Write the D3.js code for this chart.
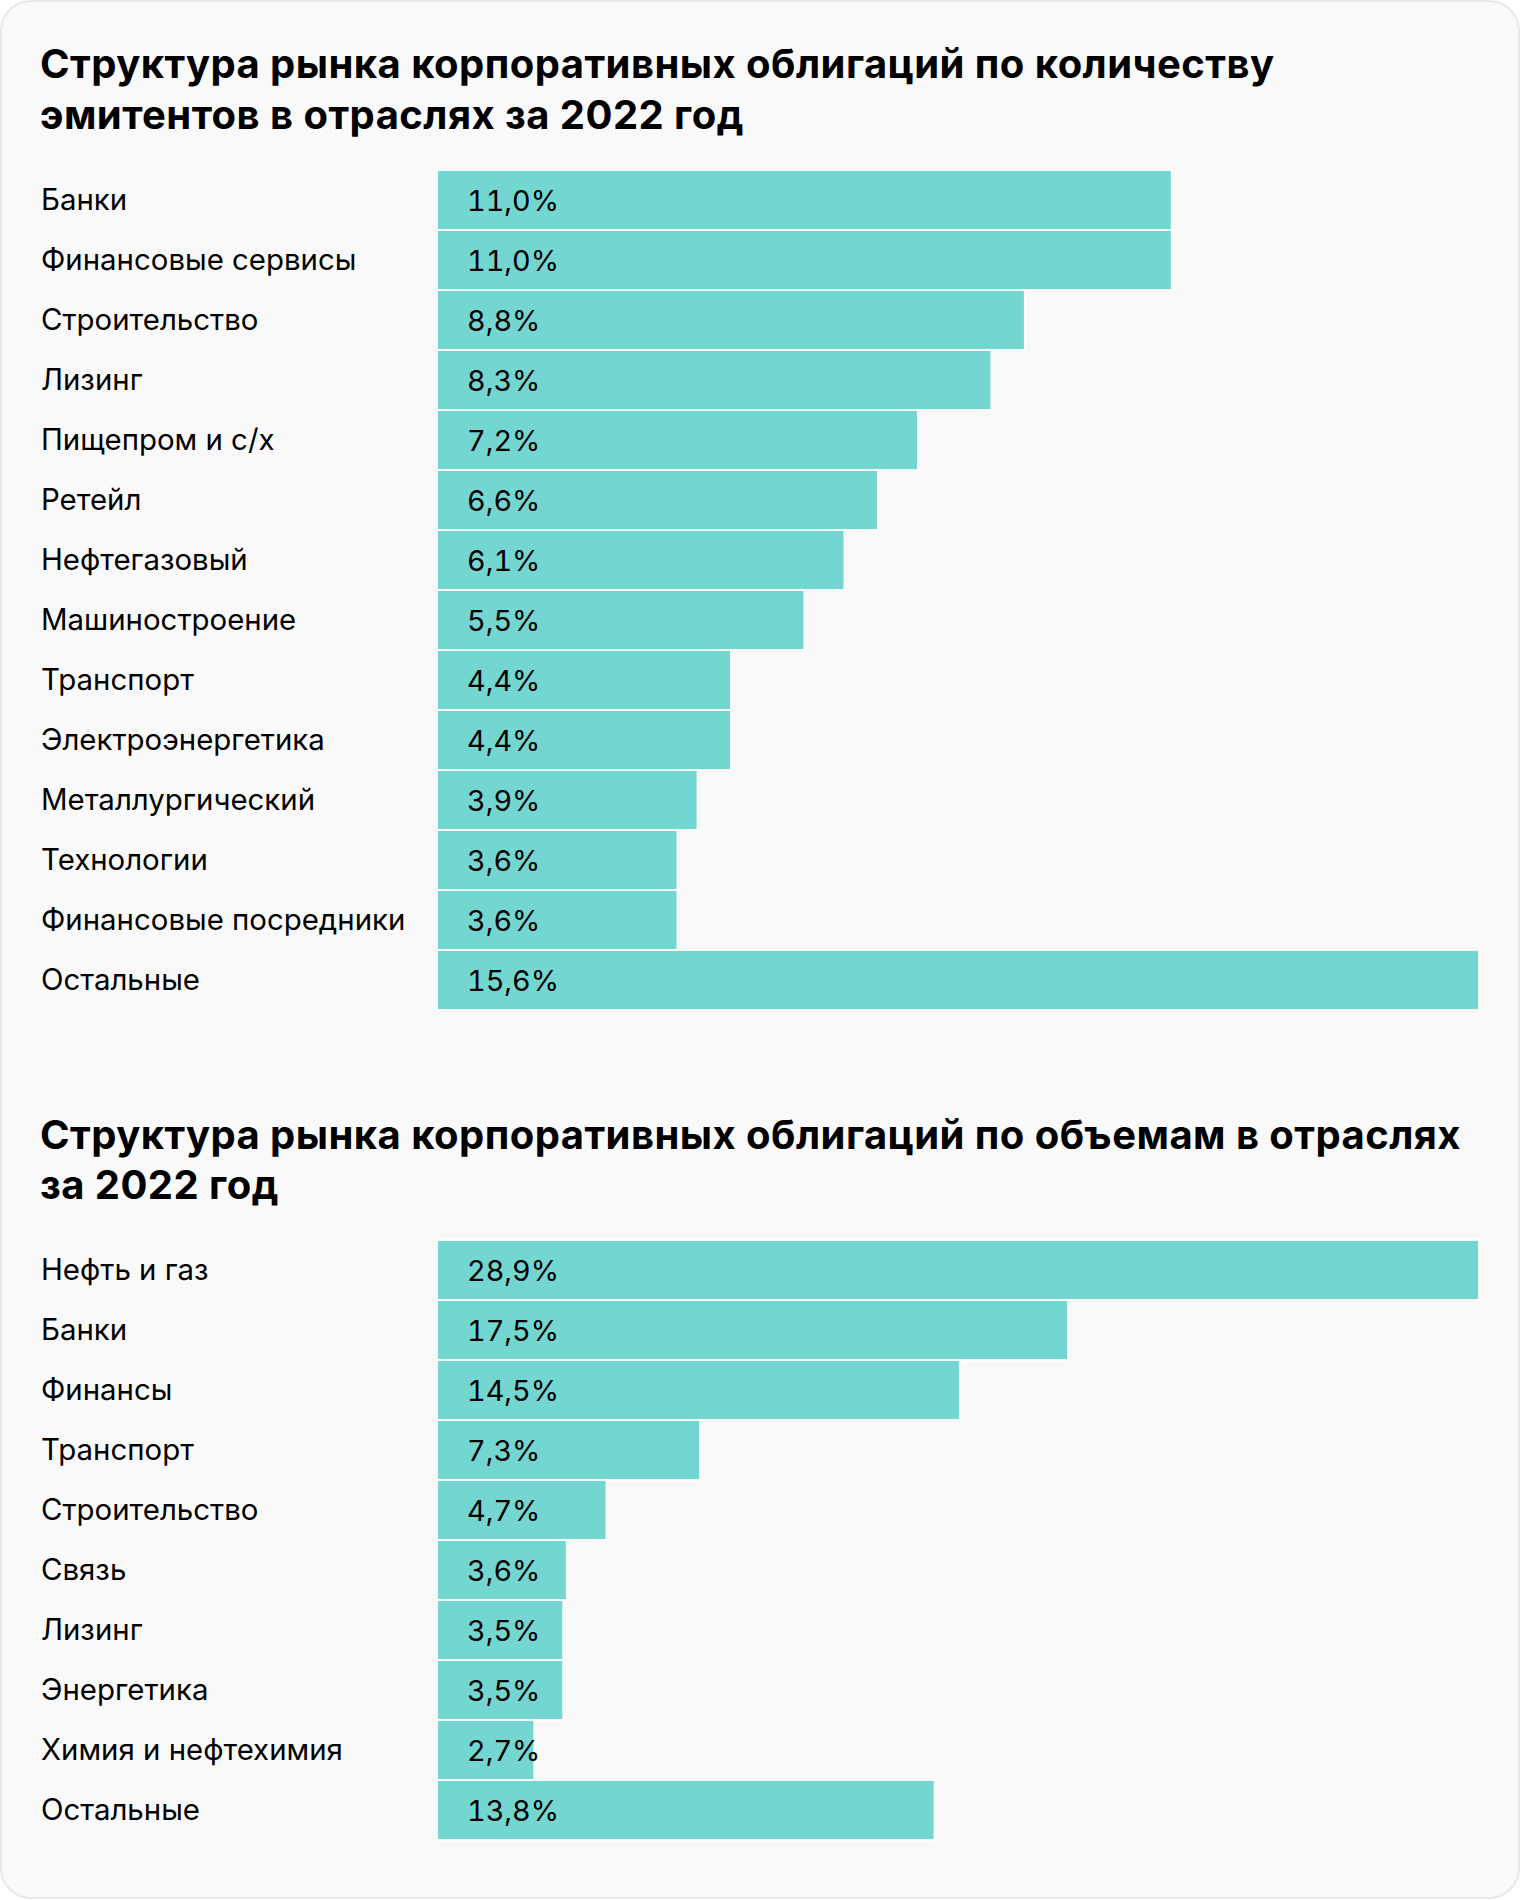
<!DOCTYPE html>
<html><head><meta charset="utf-8">
<script src="https://cdn.jsdelivr.net/npm/d3@7"></script>
<style>body{margin:0;background:#fff}svg{display:block}.val{font-variant-numeric:tabular-nums;font-feature-settings:"tnum" 1}</style>
</head><body><svg id="c" width="1520" height="1900"></svg>
<script>
const title1Lines = ["Структура рынка корпоративных облигаций по количеству", "эмитентов в отраслях за 2022 год"];
const categories1 = ["Банки","Финансовые сервисы","Строительство","Лизинг","Пищепром и с/х","Ретейл","Нефтегазовый","Машиностроение","Транспорт","Электроэнергетика","Металлургический","Технологии","Финансовые посредники","Остальные"];
const values1 = [11.0, 11.0, 8.8, 8.3, 7.2, 6.6, 6.1, 5.5, 4.4, 4.4, 3.9, 3.6, 3.6, 15.6];

const title2Lines = ["Структура рынка корпоративных облигаций по объемам в отраслях", "за 2022 год"];
const categories2 = ["Нефть и газ","Банки","Финансы","Транспорт","Строительство","Связь","Лизинг","Энергетика","Химия и нефтехимия","Остальные"];
const values2 = [28.9, 17.5, 14.5, 7.3, 4.7, 3.6, 3.5, 3.5, 2.7, 13.8];

const svg = d3.select("#c");
svg.append("rect").attr("x",1).attr("y",1).attr("width",1518).attr("height",1897)
  .attr("rx",30).attr("ry",30).attr("fill","#f9f9f9").attr("stroke","#e8e8e8").attr("stroke-width",2);

const fmt = v => d3.format(".1f")(v).replace(".", ",") + "%";
const FONT = "Inter, Roboto, sans-serif";

function drawChart(titleLines, titleBaselines, cats, vals, barsTop) {
  const g = svg.append("g");
  g.selectAll("text.title").data(titleLines).join("text")
    .attr("class","title")
    .attr("x", 40).attr("y", (d,i) => titleBaselines[i])
    .attr("font-family", FONT).attr("font-weight", 700).attr("font-size", 40)
    .attr("letter-spacing", 0.45)
    .attr("fill", "#000").text(d => d);

  const y = d3.scaleBand().domain(cats).range([barsTop, barsTop + cats.length * 60]).padding(0);
  const x = d3.scaleLinear().domain([0, d3.max(vals)]).range([437, 1479]);
  const data = cats.map((c,i) => ({c, v: vals[i]}));

  g.selectAll("rect.bar").data(data).join("rect")
    .attr("class","bar")
    .attr("x", x(0)).attr("y", d => y(d.c))
    .attr("width", d => x(d.v) - x(0)).attr("height", y.bandwidth())
    .attr("fill", "#73d6d0").attr("stroke", "#ffffff").attr("stroke-width", 1.8);

  g.selectAll("text.cat").data(data).join("text")
    .attr("class","cat")
    .attr("x", 41).attr("y", d => y(d.c) + y.bandwidth()/2 + 10)
    .attr("font-family", FONT).attr("font-size", 29.4).attr("fill", "#000")
    .text(d => d.c);

  g.selectAll("text.val").data(data).join("text")
    .attr("class","val")
    .attr("x", x(0) + 30).attr("y", d => y(d.c) + y.bandwidth()/2 + 10.5)
    .attr("font-family", FONT).attr("font-size", 28.8).attr("fill", "#000")
    .text(d => fmt(d.v));
}

drawChart(title1Lines, [77.5, 128.5], categories1, values1, 170);
drawChart(title2Lines, [1148.5, 1199], categories2, values2, 1240);
</script></body></html>
